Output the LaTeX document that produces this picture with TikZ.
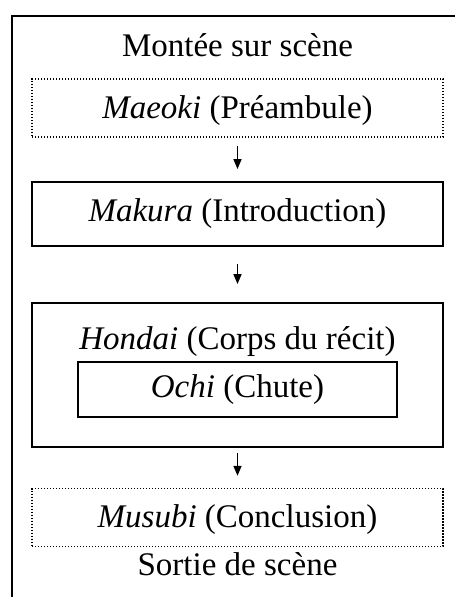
\documentclass[tikz,border=0pt]{standalone}
\usepackage{fontspec}
\setmainfont{Liberation Serif}
\usetikzlibrary{arrows.meta}
\tikzset{
  etape/.style={draw, line width=1.8pt, minimum width=411pt, minimum height=64pt, inner sep=0pt},
  etapept/.style={etape, line width=1.4pt, dash pattern=on 1.4pt off 1.6pt, minimum height=58pt},
  fleche/.style={line width=1.6pt, -{Triangle[length=10pt,width=8pt]}}
}
\begin{document}
\begin{tikzpicture}[x=1pt, y=-1pt, font=\fontsize{33}{40}\selectfont]
    %cadre
    \clip (0,0) rectangle (455,597);
            \draw[line width=2.2pt] (12,620) |- (480,16);
    \node[anchor=base] (montee) at (237.5,56) {Montée sur scène};
    \node[etapept, text height=27pt, text depth=7pt] (maeoki) at (237.5,108) {\textit{Maeoki} (Préambule)};
    \node[etape] (makura) at (237.5,214) {\textit{Makura} (Introduction)};
\node[etape, minimum height=144pt] (hondai) at (237.5,375) {};
            \node[anchor=base] (hondaitxt) at (237.5,349) {\textit{Hondai} (Corps du récit)};
            \node[etape, minimum width=319pt, minimum height=55pt] (ochi) at (237.5,389.5) {\textit{Ochi} (Chute)};
    \node[etapept, text height=27pt, text depth=7pt] (musubi) at (237.5,517.5) {\textit{Musubi} (Conclusion)};
    \node[anchor=base] (sortie) at (237.5,575) {Sortie de scène};
            \draw[fleche, shorten <=8pt, shorten >=12pt] (maeoki) -- (makura);
            \draw[fleche, shorten <=17pt, shorten >=18pt] (makura) -- (hondai);
            \draw[fleche, shorten <=5pt, shorten >=12pt] (hondai) -- (musubi);
  \end{tikzpicture}
\end{document}
